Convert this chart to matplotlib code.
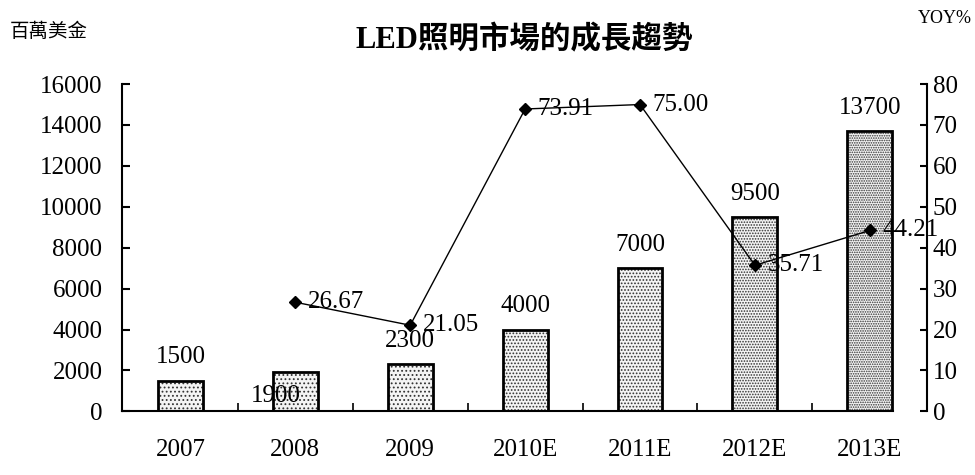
import numpy as np
import matplotlib
matplotlib.use('Agg')
import matplotlib.pyplot as plt

# data
years = ['2007', '2008', '2009', '2010E', '2011E', '2012E', '2013E']
sales = [1500, 1900, 2300, 4000, 7000, 9500, 13700]   # 百萬美金
yoy_years = years[1:]
yoy = [26.67, 21.05, 73.91, 75.00, 35.71, 44.21]      # YOY %

plt.rcParams['font.family'] = ['Liberation Serif', 'Noto Sans CJK TC']
plt.rcParams['hatch.linewidth'] = 0.8

fig = plt.figure(figsize=(9.75, 4.75), dpi=100)
ax = fig.add_axes([0.125, 0.134, 0.826, 0.689])
ax2 = ax.twinx()

x = np.arange(len(years))
w = 0.39
hatches = ['....', '....', '....', '.....', '.....', '......', '.......']

# stippled fill, then black outline on top
for xi, s, h in zip(x, sales, hatches):
    ax.bar(xi, s, w, color='#f4f4f4', edgecolor='#333333', hatch=h, linewidth=0)
ax.bar(x, sales, w, facecolor='none', edgecolor='black', linewidth=2)

# value labels above bars (1900 sits inside the bar in the original)
for xi, s in zip(x, sales):
    if s == 1900:
        ax.annotate(str(s), (xi, s), xytext=(-14, -17), textcoords='offset points',
                    ha='center', va='center', fontsize=18)
    else:
        ax.annotate(str(s), (xi, s), xytext=(0, 9), textcoords='offset points',
                    ha='center', va='bottom', fontsize=18)

xl = [years.index(y) for y in yoy_years]
ax2.plot(xl, yoy, color='black', lw=1, marker='D', ms=6.5, mfc='black')
for xi, v in zip(xl, yoy):
    ax2.annotate('%.2f' % v, (xi, v), xytext=(9, 0), textcoords='offset points',
                 ha='left', va='center', fontsize=18)

ax.set_xlim(-0.51, 6.5)
ax.set_ylim(0, 16000)
ax.set_yticks(np.arange(0, 16001, 2000))
ax2.set_ylim(0, 80)
ax2.set_yticks(np.arange(0, 81, 10))

ax.set_xticks(x)
ax.set_xticklabels(years)
ax.set_xticks(np.arange(0.5, 6, 1), minor=True)
ax.tick_params(axis='x', which='major', length=0, pad=20, labelsize=18)
ax.tick_params(axis='x', which='minor', direction='in', length=6, width=1.2)
ax.tick_params(axis='y', direction='in', length=6, width=1.5, pad=14, labelsize=18)
ax2.tick_params(axis='y', direction='in', length=5, width=1.5, pad=4, labelsize=18)

for sp in ['top', 'right']:
    ax.spines[sp].set_visible(False)
for sp in ['top', 'left', 'bottom']:
    ax2.spines[sp].set_visible(False)
ax.spines['left'].set_linewidth(1.5)
ax.spines['bottom'].set_linewidth(1.5)
ax.spines['bottom'].set_bounds(-0.51, 6.2)
ax2.spines['right'].set_linewidth(1.5)

fig.text(0.538, 0.916, 'LED照明市場的成長趨勢', ha='center', va='center',
         fontsize=22, fontweight='bold')
fig.text(0.010, 0.933, '百萬美金', ha='left', va='center', fontsize=14,
         family=['Noto Sans CJK TC'])
fig.text(0.997, 0.962, 'YOY%', ha='right', va='center', fontsize=13)

fig.savefig('out.png', dpi=100)
